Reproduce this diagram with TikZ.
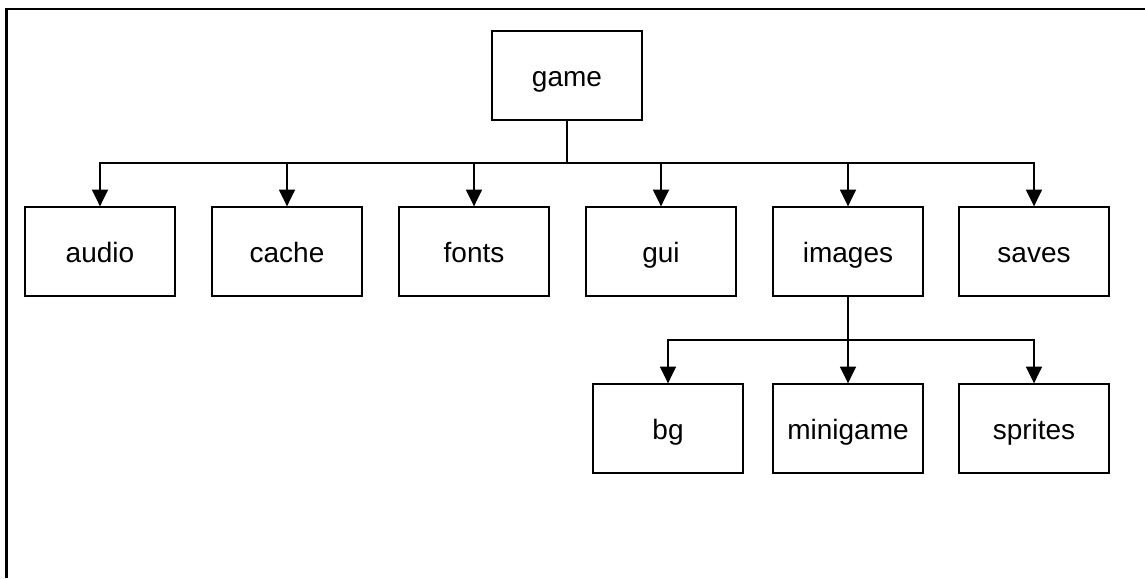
\documentclass[tikz,border=0pt]{standalone}
\usepackage{fontspec}
\setmainfont{Liberation Sans}
\usetikzlibrary{arrows.meta}
\begin{document}
\begin{tikzpicture}[x=0.75pt,y=-0.75pt,
  box/.style={draw=black,line width=1pt,minimum width=112.5pt,minimum height=66.75pt,inner sep=0pt,text height=18.9pt,text depth=2.4pt,font=\fontsize{21}{25}\selectfont},
  arr/.style={line width=1pt,-{Triangle[length=12.5pt,width=12pt]}},
  frame/.style={line width=1.6pt}]
\useasboundingbox (0,0) rectangle (1145,578);
\coordinate (fl) at (6.5,578);
\coordinate (fc) at (6.5,9);
\coordinate (fr) at (1145,9);
\draw[frame] (fl) -- (fc) -- (fr);
\node[box] (game) at (567,75.5) {game};
\node[box] (audio) at (100,251.5) {audio};
\node[box] (cache) at (287,251.5) {cache};
\node[box] (fonts) at (474,251.5) {fonts};
\node[box] (gui) at (661,251.5) {gui};
\node[box] (images) at (848,251.5) {images};
\node[box] (saves) at (1034,251.5) {saves};
\node[box] (bg) at (668,428.5) {bg};
\node[box] (minigame) at (848,428.5) {minigame};
\node[box] (sprites) at (1034,428.5) {sprites};
\coordinate (bus1) at (567,163);
\coordinate (bus2) at (848,340);
\foreach \n in {audio,cache,fonts,gui,images,saves}
  \draw[arr] (game.south) -- (game.south |- bus1) -| (\n.north);
\foreach \n in {bg,minigame,sprites}
  \draw[arr] (images.south) -- (images.south |- bus2) -| (\n.north);
\end{tikzpicture}
\end{document}
